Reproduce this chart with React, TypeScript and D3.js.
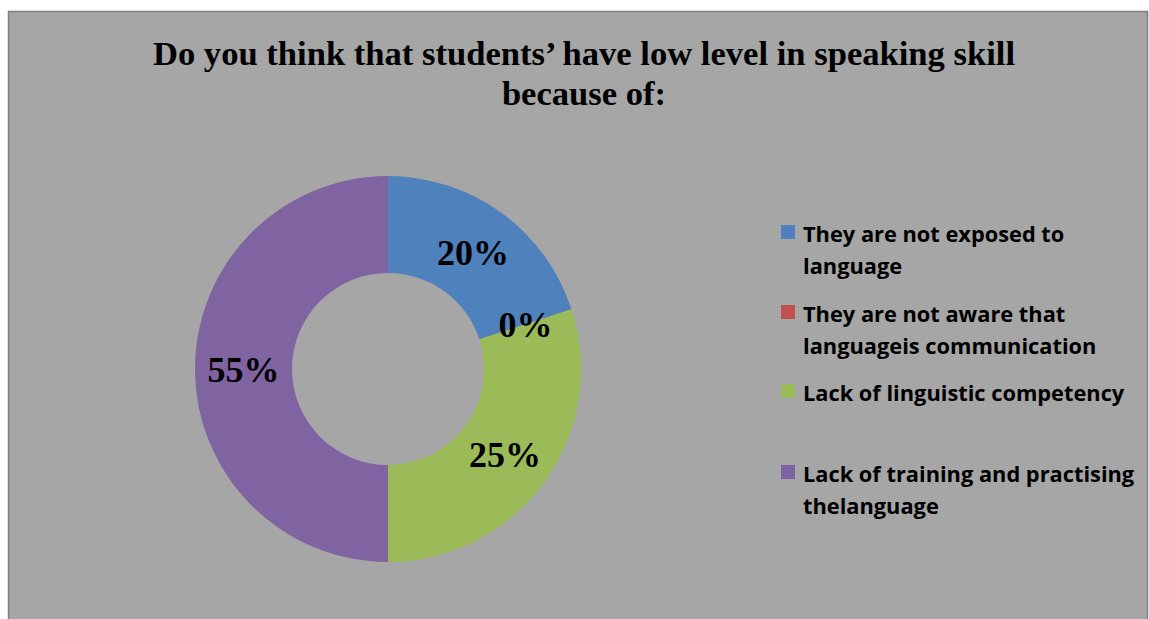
import React from "react";
import * as d3 from "d3";

const categories = [
  "They are not exposed to language",
  "They are not aware that languageis communication",
  "Lack of linguistic competency",
  "Lack of training and practising thelanguage",
];
const legendLines = [
  ["They are not exposed to", "language"],
  ["They are not aware that", "languageis communication"],
  ["Lack of linguistic competency"],
  ["Lack of training and practising", "thelanguage"],
];
// slice sizes as drawn in the reference
const values = [20, 0, 30, 50];
// labels as printed in the reference
const labels = ["20%", "0%", "25%", "55%"];
const colors = ["#4f81bd", "#c0504d", "#9bbb59", "#8064a2"];
const titleLines = ["Do you think that students\u2019 have low level in speaking skill", "because of:"];

export default function App() {
  const W = 1149, H = 619;
  const cx = 388, cy = 369, R = 193, r = 96;
  const pie = d3.pie<number>().sort(null).value((d) => d)(values);
  const arc = d3.arc<d3.PieArcDatum<number>>().innerRadius(r).outerRadius(R);
  const labelArc = d3.arc<d3.PieArcDatum<number>>().innerRadius((R + r) / 2).outerRadius((R + r) / 2);
  const legendY = [242, 322, 401, 482];
  return (
    <svg width={W} height={H} style={{ position: "absolute", left: 0, top: 0 }}>
      <rect x={0} y={0} width={W} height={H} fill="#ffffff" />
      <rect x={8.5} y={11.5} width={1139} height={640} fill="#a6a6a6" stroke="#7f7f7f" strokeWidth={1.5} />
      {titleLines.map((t, i) => (
        <text key={i} x={584} y={65 + i * 40} textAnchor="middle"
          fontFamily="'Liberation Serif', 'Times New Roman', serif" fontWeight="bold" fontSize={34.6} fill="#000">
          {t}
        </text>
      ))}
      <g transform={`translate(${cx},${cy})`}>
        {pie.map((p, i) => (
          <path key={i} d={arc(p) || ""} fill={colors[i]} />
        ))}
        {pie.map((p, i) => {
          const [x, y] = labelArc.centroid(p);
          return (
            <text key={"l" + i} x={x} y={y} dy="0.35em" textAnchor="middle"
              fontFamily="'Liberation Serif', 'Times New Roman', serif" fontWeight="bold" fontSize={36} fill="#000">
              {labels[i]}
            </text>
          );
        })}
      </g>
      {categories.map((c, i) => (
        <g key={c}>
          <rect x={781} y={legendY[i] - 17} width={14} height={14} fill={colors[i]} />
          {legendLines[i].map((ln, j) => (
            <text key={j} x={803} y={legendY[i] + j * 32}
              fontFamily="'Open Sans', sans-serif" fontWeight="bold" fontSize={21.8} fill="#000">
              {ln}
            </text>
          ))}
        </g>
      ))}
    </svg>
  );
}
